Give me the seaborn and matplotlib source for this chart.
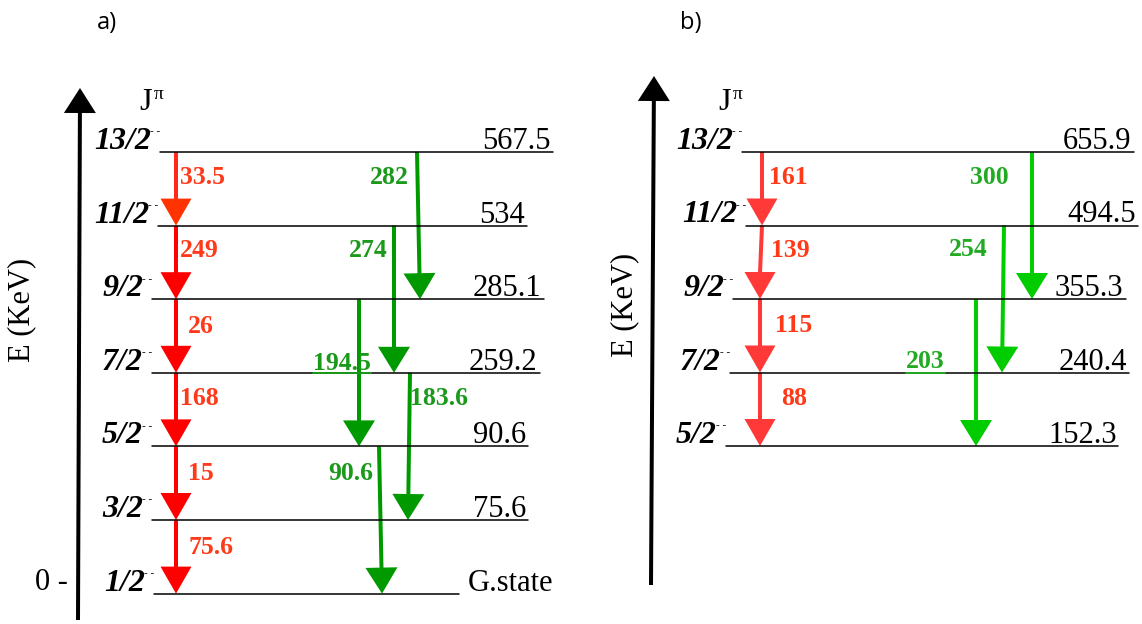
import matplotlib
matplotlib.use("Agg")
import matplotlib.pyplot as plt
import pandas as pd
import seaborn as sns

sns.set_theme(style="white")
plt.rcParams["font.family"] = ["Liberation Serif", "DejaVu Serif"]
plt.rcParams["text.color"] = "black"

# ---- data: panel a ----
spins_a = ["13/2", "11/2", "9/2", "7/2", "5/2", "3/2", "1/2"]
energies_a = ["567.5", "534", "285.1", "259.2", "90.6", "75.6", "G.state"]
red_from_a = [0, 1, 2, 3, 4, 5]
red_to_a = [1, 2, 3, 4, 5, 6]
red_labels_a = ["33.5", "249", "26", "168", "15", "75.6"]
green_from_a = [0, 1, 2, 3, 4]
green_to_a = [2, 3, 4, 5, 6]
green_labels_a = ["282", "274", "194.5", "183.6", "90.6"]

# ---- data: panel b ----
spins_b = ["13/2", "11/2", "9/2", "7/2", "5/2"]
energies_b = ["655.9", "494.5", "355.3", "240.4", "152.3"]
red_from_b = [0, 1, 2, 3]
red_to_b = [1, 2, 3, 4]
red_labels_b = ["161", "139", "115", "88"]
green_from_b = [0, 1, 2]
green_to_b = [2, 3, 4]
green_labels_b = ["300", "254", "203"]

# ---- layout (pixel-like canvas coordinates, y grows downward) ----
layout_a = dict(
    top=152, step=73.6,
    line_x0=[160, 158, 152, 152, 152, 152, 154],
    line_x1=[553, 527, 544, 540, 528, 528, 459],
    elabel_x=[482, 479, 473, 469, 473, 473, 468],
    red_x=[(176, 176)] * 6,
    red_colors=["#FF2A1A", "#FF0000", "#FF0000", "#FF0000", "#FF0000", "#FF0000"],
    red_head=["#FF3300", "#FF0000", "#FF0000", "#FF0000", "#FF0000", "#FF0000"],
    red_lab=[(180, 26), (180, 25), (188, 27), (180, 26), (188, 27), (188, 27)],
    red_lab_color="#FF3A1A",
    green_x=[(417, 420), (394, 394), (359, 359), (410, 408), (379, 382)],
    green_color="#009A00",
    green_lab=[(409, 25, "right", False), (388, 25, "right", False),
               (313, 64, "left", True), (410, 26, "left", False),
               (373, 27, "right", False)],
    green_lab_color="#1A991A",
    axis=((78, 620), (80, 88)),
    jpi=(139, 110),
    ekev=(22, 310),
    panel=("a)", 97, 23),
    zero=True,
)
layout_b = dict(
    top=152, step=73.5,
    line_x0=[742, 746, 733, 730, 726],
    line_x1=[1134, 1138, 1126, 1129, 1118],
    elabel_x=[1063, 1067, 1054, 1059, 1048],
    red_x=[(762, 762), (762, 760), (760, 760), (760, 760)],
    red_colors=["#FF3838"] * 4,
    red_head=["#FF3838"] * 4,
    red_lab=[(769, 26), (771, 25), (775, 26), (781, 26)],
    red_lab_color="#FF3A1A",
    green_x=[(1032, 1032), (1004, 1002), (976, 976)],
    green_color="#00CC00",
    green_lab=[(1009, 25, "right", False), (988, 24, "right", False),
               (906, 63, "left", True)],
    green_lab_color="#22AA22",
    axis=((651, 585), (654, 76)),
    jpi=(718, 110),
    ekev=(625, 305),
    panel=("b)", 680, 23),
    zero=False,
)

fig = plt.figure(figsize=(11.42, 6.24), dpi=100)
ax = fig.add_axes([0, 0, 1, 1])

underlined = []


def draw_panel(ax, spins, energies, rf, rt, rl, gf, gt, gl, L):
    ys = [L["top"] + i * L["step"] for i in range(len(spins))]

    rows = []
    for i in range(len(spins)):
        rows.append(dict(level=i, x=L["line_x0"][i], y=ys[i]))
        rows.append(dict(level=i, x=L["line_x1"][i], y=ys[i]))
    df = pd.DataFrame(rows)
    sns.lineplot(data=df, x="x", y="y", units="level", estimator=None,
                 color="black", lw=1.1, ax=ax, legend=False)

    for i, (sp, en) in enumerate(zip(spins, energies)):
        x0 = L["line_x0"][i]
        ax.text(x0 - 9, ys[i] - 3, sp, ha="right", va="baseline",
                fontsize=23, fontweight="bold", fontstyle="italic")
        ax.text(x0 - 10, ys[i] - 20, "- -", ha="left", va="center", fontsize=8)
        ax.text(L["elabel_x"][i], ys[i] - 3, en, ha="left", va="baseline",
                fontsize=22)

    # red cascade
    for k, (a, b, lab) in enumerate(zip(rf, rt, rl)):
        xa, xb = L["red_x"][k]
        ax.arrow(xa, ys[a], 0.001 + xb - xa, ys[b] - ys[a] - 26, width=4,
                 head_width=0, head_length=0, color=L["red_colors"][k], lw=0)
        ax.arrow(xb, ys[b] - 27, 0, 27, width=0.1, head_width=31,
                 head_length=27, length_includes_head=True,
                 color=L["red_head"][k], lw=0)
        lx, dy = L["red_lab"][k]
        ax.text(lx, ys[a] + dy, lab, ha="left", va="center", fontsize=18.5,
                fontweight="bold", color=L["red_lab_color"])

    # green crossovers
    for k, (a, b, lab) in enumerate(zip(gf, gt, gl)):
        xa, xb = L["green_x"][k]
        ax.arrow(xa, ys[a], xb - xa, ys[b] - ys[a], width=4, head_width=32,
                 head_length=26, length_includes_head=True,
                 color=L["green_color"], lw=0)
        lx, dy, ha, ul = L["green_lab"][k]
        t = ax.text(lx, ys[a] + dy, lab, ha=ha, va="center", fontsize=18.5,
                    fontweight="bold", color=L["green_lab_color"])
        if ul:
            underlined.append((t, ys[a + 1], L["green_lab_color"]))

    # energy axis
    (xb0, yb0), (xt0, yt0) = L["axis"]
    ax.arrow(xb0, yb0, xt0 - xb0, yt0 - yb0, width=4, head_width=32,
             head_length=25, length_includes_head=True, color="black", lw=0)

    jx, jy = L["jpi"]
    ax.text(jx, jy, "J", ha="left", va="baseline", fontsize=23)
    ax.text(jx + 15, jy - 11, "π", ha="left", va="baseline", fontsize=14)
    ex, ey = L["ekev"]
    ax.text(ex, ey, "E (KeV)", rotation=90, ha="center", va="center",
            fontsize=22)
    name, px, py = L["panel"]
    ax.text(px, py, name, ha="left", va="center", fontsize=17,
            family=["Open Sans", "DejaVu Sans"])
    if L["zero"]:
        ax.text(35, ys[-1] - 11, "0 -", ha="left", va="center", fontsize=22)


draw_panel(ax, spins_a, energies_a, red_from_a, red_to_a, red_labels_a,
           green_from_a, green_to_a, green_labels_a, layout_a)
draw_panel(ax, spins_b, energies_b, red_from_b, red_to_b, red_labels_b,
           green_from_b, green_to_b, green_labels_b, layout_b)

ax.set_xlim(0, 1142)
ax.set_ylim(624, 0)
ax.set_axis_off()

fig.canvas.draw()
inv = ax.transData.inverted()
for t, y, c in underlined:
    bb = t.get_window_extent()
    (x0, _), (x1, _) = inv.transform([[bb.x0, bb.y0], [bb.x1, bb.y1]])
    ax.plot([x0, x1], [y, y], color=c, lw=1.4)

fig.savefig("out.png", dpi=100)
